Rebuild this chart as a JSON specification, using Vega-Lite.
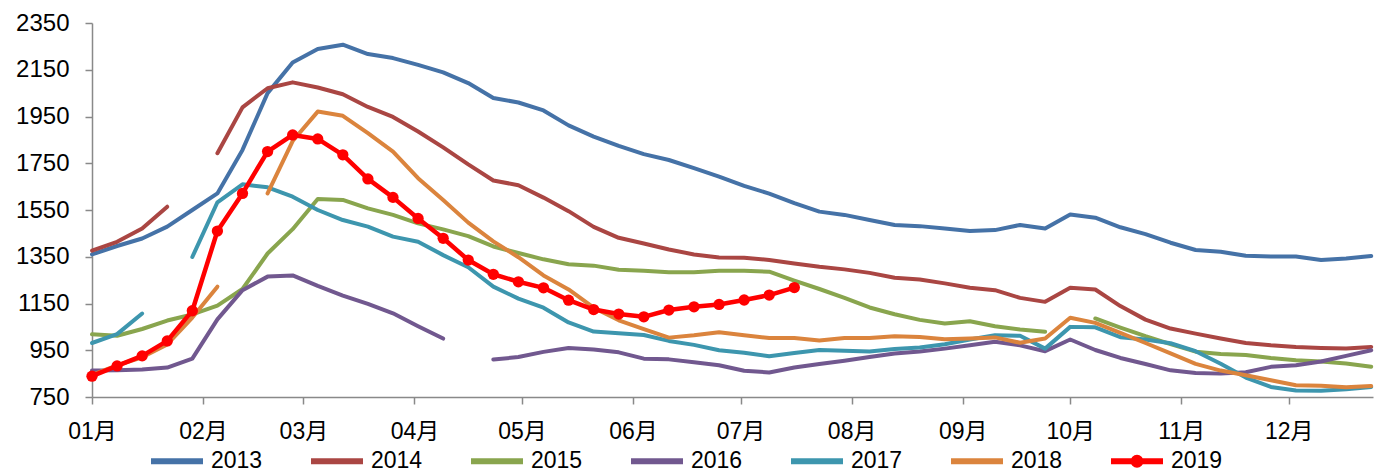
{
"$schema": "https://vega.github.io/schema/vega-lite/v6.json",
"width": 1281, "height": 374,
"autosize": {"type": "none"},
"padding": {"left": 92, "top": 23, "right": 13, "bottom": 76},
"background": "white",
"config": {"view": {"stroke": null}, "font": "Liberation Sans, Arial, sans-serif"},
"data": {"values": [
{"d":"2019-01-01","s":"2013","g":"2013","v":1360},{"d":"2019-01-08","s":"2013","g":"2013","v":1396},{"d":"2019-01-15","s":"2013","g":"2013","v":1428},{"d":"2019-01-22","s":"2013","g":"2013","v":1479},{"d":"2019-01-29","s":"2013","g":"2013","v":1550},{"d":"2019-02-05","s":"2013","g":"2013","v":1621},{"d":"2019-02-12","s":"2013","g":"2013","v":1807},{"d":"2019-02-19","s":"2013","g":"2013","v":2050},{"d":"2019-02-26","s":"2013","g":"2013","v":2181},{"d":"2019-03-05","s":"2013","g":"2013","v":2239},{"d":"2019-03-12","s":"2013","g":"2013","v":2257},{"d":"2019-03-19","s":"2013","g":"2013","v":2217},{"d":"2019-03-26","s":"2013","g":"2013","v":2200},{"d":"2019-04-02","s":"2013","g":"2013","v":2171},{"d":"2019-04-09","s":"2013","g":"2013","v":2139},{"d":"2019-04-16","s":"2013","g":"2013","v":2093},{"d":"2019-04-23","s":"2013","g":"2013","v":2029},{"d":"2019-04-30","s":"2013","g":"2013","v":2010},{"d":"2019-05-07","s":"2013","g":"2013","v":1976},{"d":"2019-05-14","s":"2013","g":"2013","v":1912},{"d":"2019-05-21","s":"2013","g":"2013","v":1864},{"d":"2019-05-28","s":"2013","g":"2013","v":1824},{"d":"2019-06-04","s":"2013","g":"2013","v":1789},{"d":"2019-06-11","s":"2013","g":"2013","v":1764},{"d":"2019-06-18","s":"2013","g":"2013","v":1729},{"d":"2019-06-25","s":"2013","g":"2013","v":1693},{"d":"2019-07-02","s":"2013","g":"2013","v":1653},{"d":"2019-07-09","s":"2013","g":"2013","v":1620},{"d":"2019-07-16","s":"2013","g":"2013","v":1579},{"d":"2019-07-23","s":"2013","g":"2013","v":1543},{"d":"2019-07-30","s":"2013","g":"2013","v":1529},{"d":"2019-08-06","s":"2013","g":"2013","v":1507},{"d":"2019-08-13","s":"2013","g":"2013","v":1486},{"d":"2019-08-20","s":"2013","g":"2013","v":1481},{"d":"2019-08-27","s":"2013","g":"2013","v":1471},{"d":"2019-09-03","s":"2013","g":"2013","v":1460},{"d":"2019-09-10","s":"2013","g":"2013","v":1464},{"d":"2019-09-17","s":"2013","g":"2013","v":1486},{"d":"2019-09-24","s":"2013","g":"2013","v":1471},{"d":"2019-10-01","s":"2013","g":"2013","v":1531},{"d":"2019-10-08","s":"2013","g":"2013","v":1517},{"d":"2019-10-15","s":"2013","g":"2013","v":1476},{"d":"2019-10-22","s":"2013","g":"2013","v":1447},{"d":"2019-10-29","s":"2013","g":"2013","v":1410},{"d":"2019-11-05","s":"2013","g":"2013","v":1379},{"d":"2019-11-12","s":"2013","g":"2013","v":1371},{"d":"2019-11-19","s":"2013","g":"2013","v":1354},{"d":"2019-11-26","s":"2013","g":"2013","v":1351},{"d":"2019-12-03","s":"2013","g":"2013","v":1351},{"d":"2019-12-10","s":"2013","g":"2013","v":1336},{"d":"2019-12-17","s":"2013","g":"2013","v":1343},{"d":"2019-12-24","s":"2013","g":"2013","v":1353},
{"d":"2019-01-01","s":"2014","g":"2014a","v":1376},{"d":"2019-01-08","s":"2014","g":"2014a","v":1414},{"d":"2019-01-15","s":"2014","g":"2014a","v":1471},{"d":"2019-01-22","s":"2014","g":"2014a","v":1564},
{"d":"2019-02-05","s":"2014","g":"2014b","v":1793},{"d":"2019-02-12","s":"2014","g":"2014b","v":1989},{"d":"2019-02-19","s":"2014","g":"2014b","v":2071},{"d":"2019-02-26","s":"2014","g":"2014b","v":2096},{"d":"2019-03-05","s":"2014","g":"2014b","v":2074},{"d":"2019-03-12","s":"2014","g":"2014b","v":2045},{"d":"2019-03-19","s":"2014","g":"2014b","v":1991},{"d":"2019-03-26","s":"2014","g":"2014b","v":1948},{"d":"2019-04-02","s":"2014","g":"2014b","v":1886},{"d":"2019-04-09","s":"2014","g":"2014b","v":1818},{"d":"2019-04-16","s":"2014","g":"2014b","v":1745},{"d":"2019-04-23","s":"2014","g":"2014b","v":1676},{"d":"2019-04-30","s":"2014","g":"2014b","v":1656},{"d":"2019-05-07","s":"2014","g":"2014b","v":1603},{"d":"2019-05-14","s":"2014","g":"2014b","v":1545},{"d":"2019-05-21","s":"2014","g":"2014b","v":1478},{"d":"2019-05-28","s":"2014","g":"2014b","v":1431},{"d":"2019-06-04","s":"2014","g":"2014b","v":1407},{"d":"2019-06-11","s":"2014","g":"2014b","v":1381},{"d":"2019-06-18","s":"2014","g":"2014b","v":1360},{"d":"2019-06-25","s":"2014","g":"2014b","v":1347},{"d":"2019-07-02","s":"2014","g":"2014b","v":1346},{"d":"2019-07-09","s":"2014","g":"2014b","v":1336},{"d":"2019-07-16","s":"2014","g":"2014b","v":1321},{"d":"2019-07-23","s":"2014","g":"2014b","v":1307},{"d":"2019-07-30","s":"2014","g":"2014b","v":1296},{"d":"2019-08-06","s":"2014","g":"2014b","v":1281},{"d":"2019-08-13","s":"2014","g":"2014b","v":1260},{"d":"2019-08-20","s":"2014","g":"2014b","v":1253},{"d":"2019-08-27","s":"2014","g":"2014b","v":1236},{"d":"2019-09-03","s":"2014","g":"2014b","v":1217},{"d":"2019-09-10","s":"2014","g":"2014b","v":1207},{"d":"2019-09-17","s":"2014","g":"2014b","v":1174},{"d":"2019-09-24","s":"2014","g":"2014b","v":1157},{"d":"2019-10-01","s":"2014","g":"2014b","v":1217},{"d":"2019-10-08","s":"2014","g":"2014b","v":1210},{"d":"2019-10-15","s":"2014","g":"2014b","v":1139},{"d":"2019-10-22","s":"2014","g":"2014b","v":1081},{"d":"2019-10-29","s":"2014","g":"2014b","v":1043},{"d":"2019-11-05","s":"2014","g":"2014b","v":1021},{"d":"2019-11-12","s":"2014","g":"2014b","v":1000},{"d":"2019-11-19","s":"2014","g":"2014b","v":981},{"d":"2019-11-26","s":"2014","g":"2014b","v":971},{"d":"2019-12-03","s":"2014","g":"2014b","v":964},{"d":"2019-12-10","s":"2014","g":"2014b","v":960},{"d":"2019-12-17","s":"2014","g":"2014b","v":957},{"d":"2019-12-24","s":"2014","g":"2014b","v":964},
{"d":"2019-01-01","s":"2015","g":"2015a","v":1018},{"d":"2019-01-08","s":"2015","g":"2015a","v":1012},{"d":"2019-01-15","s":"2015","g":"2015a","v":1041},{"d":"2019-01-22","s":"2015","g":"2015a","v":1077},{"d":"2019-01-29","s":"2015","g":"2015a","v":1103},{"d":"2019-02-05","s":"2015","g":"2015a","v":1141},{"d":"2019-02-12","s":"2015","g":"2015a","v":1212},{"d":"2019-02-19","s":"2015","g":"2015a","v":1364},{"d":"2019-02-26","s":"2015","g":"2015a","v":1468},{"d":"2019-03-05","s":"2015","g":"2015a","v":1597},{"d":"2019-03-12","s":"2015","g":"2015a","v":1593},{"d":"2019-03-19","s":"2015","g":"2015a","v":1557},{"d":"2019-03-26","s":"2015","g":"2015a","v":1529},{"d":"2019-04-02","s":"2015","g":"2015a","v":1493},{"d":"2019-04-09","s":"2015","g":"2015a","v":1467},{"d":"2019-04-16","s":"2015","g":"2015a","v":1438},{"d":"2019-04-23","s":"2015","g":"2015a","v":1394},{"d":"2019-04-30","s":"2015","g":"2015a","v":1366},{"d":"2019-05-07","s":"2015","g":"2015a","v":1339},{"d":"2019-05-14","s":"2015","g":"2015a","v":1318},{"d":"2019-05-21","s":"2015","g":"2015a","v":1312},{"d":"2019-05-28","s":"2015","g":"2015a","v":1294},{"d":"2019-06-04","s":"2015","g":"2015a","v":1290},{"d":"2019-06-11","s":"2015","g":"2015a","v":1284},{"d":"2019-06-18","s":"2015","g":"2015a","v":1284},{"d":"2019-06-25","s":"2015","g":"2015a","v":1290},{"d":"2019-07-02","s":"2015","g":"2015a","v":1290},{"d":"2019-07-09","s":"2015","g":"2015a","v":1286},{"d":"2019-07-16","s":"2015","g":"2015a","v":1248},{"d":"2019-07-23","s":"2015","g":"2015a","v":1212},{"d":"2019-07-30","s":"2015","g":"2015a","v":1174},{"d":"2019-08-06","s":"2015","g":"2015a","v":1133},{"d":"2019-08-13","s":"2015","g":"2015a","v":1104},{"d":"2019-08-20","s":"2015","g":"2015a","v":1080},{"d":"2019-08-27","s":"2015","g":"2015a","v":1064},{"d":"2019-09-03","s":"2015","g":"2015a","v":1074},{"d":"2019-09-10","s":"2015","g":"2015a","v":1053},{"d":"2019-09-17","s":"2015","g":"2015a","v":1039},{"d":"2019-09-24","s":"2015","g":"2015a","v":1029},
{"d":"2019-10-08","s":"2015","g":"2015b","v":1086},{"d":"2019-10-15","s":"2015","g":"2015b","v":1047},{"d":"2019-10-22","s":"2015","g":"2015b","v":1010},{"d":"2019-10-29","s":"2015","g":"2015b","v":976},{"d":"2019-11-05","s":"2015","g":"2015b","v":944},{"d":"2019-11-12","s":"2015","g":"2015b","v":934},{"d":"2019-11-19","s":"2015","g":"2015b","v":930},{"d":"2019-11-26","s":"2015","g":"2015b","v":917},{"d":"2019-12-03","s":"2015","g":"2015b","v":907},{"d":"2019-12-10","s":"2015","g":"2015b","v":902},{"d":"2019-12-17","s":"2015","g":"2015b","v":893},{"d":"2019-12-24","s":"2015","g":"2015b","v":879},
{"d":"2019-01-01","s":"2016","g":"2016a","v":863},{"d":"2019-01-08","s":"2016","g":"2016a","v":864},{"d":"2019-01-15","s":"2016","g":"2016a","v":868},{"d":"2019-01-22","s":"2016","g":"2016a","v":876},{"d":"2019-01-29","s":"2016","g":"2016a","v":914},{"d":"2019-02-05","s":"2016","g":"2016a","v":1082},{"d":"2019-02-12","s":"2016","g":"2016a","v":1207},{"d":"2019-02-19","s":"2016","g":"2016a","v":1265},{"d":"2019-02-26","s":"2016","g":"2016a","v":1270},{"d":"2019-03-05","s":"2016","g":"2016a","v":1225},{"d":"2019-03-12","s":"2016","g":"2016a","v":1184},{"d":"2019-03-19","s":"2016","g":"2016a","v":1148},{"d":"2019-03-26","s":"2016","g":"2016a","v":1108},{"d":"2019-04-02","s":"2016","g":"2016a","v":1053},{"d":"2019-04-09","s":"2016","g":"2016a","v":1000},
{"d":"2019-04-23","s":"2016","g":"2016b","v":910},{"d":"2019-04-30","s":"2016","g":"2016b","v":921},{"d":"2019-05-07","s":"2016","g":"2016b","v":943},{"d":"2019-05-14","s":"2016","g":"2016b","v":960},{"d":"2019-05-21","s":"2016","g":"2016b","v":953},{"d":"2019-05-28","s":"2016","g":"2016b","v":941},{"d":"2019-06-04","s":"2016","g":"2016b","v":914},{"d":"2019-06-11","s":"2016","g":"2016b","v":911},{"d":"2019-06-18","s":"2016","g":"2016b","v":899},{"d":"2019-06-25","s":"2016","g":"2016b","v":886},{"d":"2019-07-02","s":"2016","g":"2016b","v":862},{"d":"2019-07-09","s":"2016","g":"2016b","v":855},{"d":"2019-07-16","s":"2016","g":"2016b","v":876},{"d":"2019-07-23","s":"2016","g":"2016b","v":891},{"d":"2019-07-30","s":"2016","g":"2016b","v":905},{"d":"2019-08-06","s":"2016","g":"2016b","v":921},{"d":"2019-08-13","s":"2016","g":"2016b","v":936},{"d":"2019-08-20","s":"2016","g":"2016b","v":945},{"d":"2019-08-27","s":"2016","g":"2016b","v":957},{"d":"2019-09-03","s":"2016","g":"2016b","v":971},{"d":"2019-09-10","s":"2016","g":"2016b","v":986},{"d":"2019-09-17","s":"2016","g":"2016b","v":971},{"d":"2019-09-24","s":"2016","g":"2016b","v":946},{"d":"2019-10-01","s":"2016","g":"2016b","v":996},{"d":"2019-10-08","s":"2016","g":"2016b","v":951},{"d":"2019-10-15","s":"2016","g":"2016b","v":917},{"d":"2019-10-22","s":"2016","g":"2016b","v":891},{"d":"2019-10-29","s":"2016","g":"2016b","v":864},{"d":"2019-11-05","s":"2016","g":"2016b","v":853},{"d":"2019-11-12","s":"2016","g":"2016b","v":850},{"d":"2019-11-19","s":"2016","g":"2016b","v":856},{"d":"2019-11-26","s":"2016","g":"2016b","v":879},{"d":"2019-12-03","s":"2016","g":"2016b","v":886},{"d":"2019-12-10","s":"2016","g":"2016b","v":902},{"d":"2019-12-17","s":"2016","g":"2016b","v":926},{"d":"2019-12-24","s":"2016","g":"2016b","v":950},
{"d":"2019-01-01","s":"2017","g":"2017a","v":981},{"d":"2019-01-08","s":"2017","g":"2017a","v":1019},{"d":"2019-01-15","s":"2017","g":"2017a","v":1107},
{"d":"2019-01-29","s":"2017","g":"2017b","v":1349},{"d":"2019-02-05","s":"2017","g":"2017b","v":1583},{"d":"2019-02-12","s":"2017","g":"2017b","v":1660},{"d":"2019-02-19","s":"2017","g":"2017b","v":1647},{"d":"2019-02-26","s":"2017","g":"2017b","v":1607},{"d":"2019-03-05","s":"2017","g":"2017b","v":1550},{"d":"2019-03-12","s":"2017","g":"2017b","v":1507},{"d":"2019-03-19","s":"2017","g":"2017b","v":1479},{"d":"2019-03-26","s":"2017","g":"2017b","v":1436},{"d":"2019-04-02","s":"2017","g":"2017b","v":1414},{"d":"2019-04-09","s":"2017","g":"2017b","v":1357},{"d":"2019-04-16","s":"2017","g":"2017b","v":1305},{"d":"2019-04-23","s":"2017","g":"2017b","v":1222},{"d":"2019-04-30","s":"2017","g":"2017b","v":1171},{"d":"2019-05-07","s":"2017","g":"2017b","v":1132},{"d":"2019-05-14","s":"2017","g":"2017b","v":1069},{"d":"2019-05-21","s":"2017","g":"2017b","v":1030},{"d":"2019-05-28","s":"2017","g":"2017b","v":1023},{"d":"2019-06-04","s":"2017","g":"2017b","v":1015},{"d":"2019-06-11","s":"2017","g":"2017b","v":990},{"d":"2019-06-18","s":"2017","g":"2017b","v":973},{"d":"2019-06-25","s":"2017","g":"2017b","v":950},{"d":"2019-07-02","s":"2017","g":"2017b","v":939},{"d":"2019-07-09","s":"2017","g":"2017b","v":924},{"d":"2019-07-16","s":"2017","g":"2017b","v":938},{"d":"2019-07-23","s":"2017","g":"2017b","v":951},{"d":"2019-07-30","s":"2017","g":"2017b","v":948},{"d":"2019-08-06","s":"2017","g":"2017b","v":945},{"d":"2019-08-13","s":"2017","g":"2017b","v":955},{"d":"2019-08-20","s":"2017","g":"2017b","v":962},{"d":"2019-08-27","s":"2017","g":"2017b","v":976},{"d":"2019-09-03","s":"2017","g":"2017b","v":996},{"d":"2019-09-10","s":"2017","g":"2017b","v":1014},{"d":"2019-09-17","s":"2017","g":"2017b","v":1012},{"d":"2019-09-24","s":"2017","g":"2017b","v":957},{"d":"2019-10-01","s":"2017","g":"2017b","v":1050},{"d":"2019-10-08","s":"2017","g":"2017b","v":1048},{"d":"2019-10-15","s":"2017","g":"2017b","v":1006},{"d":"2019-10-22","s":"2017","g":"2017b","v":996},{"d":"2019-10-29","s":"2017","g":"2017b","v":980},{"d":"2019-11-05","s":"2017","g":"2017b","v":946},{"d":"2019-11-12","s":"2017","g":"2017b","v":892},{"d":"2019-11-19","s":"2017","g":"2017b","v":833},{"d":"2019-11-26","s":"2017","g":"2017b","v":793},{"d":"2019-12-03","s":"2017","g":"2017b","v":778},{"d":"2019-12-10","s":"2017","g":"2017b","v":777},{"d":"2019-12-17","s":"2017","g":"2017b","v":783},{"d":"2019-12-24","s":"2017","g":"2017b","v":793},
{"d":"2019-01-01","s":"2018","g":"2018a","v":845},{"d":"2019-01-08","s":"2018","g":"2018a","v":885},{"d":"2019-01-15","s":"2018","g":"2018a","v":920},{"d":"2019-01-22","s":"2018","g":"2018a","v":975},{"d":"2019-01-29","s":"2018","g":"2018a","v":1090},{"d":"2019-02-05","s":"2018","g":"2018a","v":1222},
{"d":"2019-02-19","s":"2018","g":"2018b","v":1621},{"d":"2019-02-26","s":"2018","g":"2018b","v":1845},{"d":"2019-03-05","s":"2018","g":"2018b","v":1971},{"d":"2019-03-12","s":"2018","g":"2018b","v":1953},{"d":"2019-03-19","s":"2018","g":"2018b","v":1879},{"d":"2019-03-26","s":"2018","g":"2018b","v":1800},{"d":"2019-04-02","s":"2018","g":"2018b","v":1686},{"d":"2019-04-09","s":"2018","g":"2018b","v":1593},{"d":"2019-04-16","s":"2018","g":"2018b","v":1496},{"d":"2019-04-23","s":"2018","g":"2018b","v":1416},{"d":"2019-04-30","s":"2018","g":"2018b","v":1348},{"d":"2019-05-07","s":"2018","g":"2018b","v":1270},{"d":"2019-05-14","s":"2018","g":"2018b","v":1210},{"d":"2019-05-21","s":"2018","g":"2018b","v":1132},{"d":"2019-05-28","s":"2018","g":"2018b","v":1078},{"d":"2019-06-04","s":"2018","g":"2018b","v":1040},{"d":"2019-06-11","s":"2018","g":"2018b","v":1004},{"d":"2019-06-18","s":"2018","g":"2018b","v":1014},{"d":"2019-06-25","s":"2018","g":"2018b","v":1027},{"d":"2019-07-02","s":"2018","g":"2018b","v":1014},{"d":"2019-07-09","s":"2018","g":"2018b","v":1002},{"d":"2019-07-16","s":"2018","g":"2018b","v":1002},{"d":"2019-07-23","s":"2018","g":"2018b","v":992},{"d":"2019-07-30","s":"2018","g":"2018b","v":1002},{"d":"2019-08-06","s":"2018","g":"2018b","v":1002},{"d":"2019-08-13","s":"2018","g":"2018b","v":1010},{"d":"2019-08-20","s":"2018","g":"2018b","v":1007},{"d":"2019-08-27","s":"2018","g":"2018b","v":997},{"d":"2019-09-03","s":"2018","g":"2018b","v":1000},{"d":"2019-09-10","s":"2018","g":"2018b","v":1005},{"d":"2019-09-17","s":"2018","g":"2018b","v":982},{"d":"2019-09-24","s":"2018","g":"2018b","v":1000},{"d":"2019-10-01","s":"2018","g":"2018b","v":1089},{"d":"2019-10-08","s":"2018","g":"2018b","v":1067},{"d":"2019-10-15","s":"2018","g":"2018b","v":1024},{"d":"2019-10-22","s":"2018","g":"2018b","v":981},{"d":"2019-10-29","s":"2018","g":"2018b","v":937},{"d":"2019-11-05","s":"2018","g":"2018b","v":892},{"d":"2019-11-12","s":"2018","g":"2018b","v":863},{"d":"2019-11-19","s":"2018","g":"2018b","v":843},{"d":"2019-11-26","s":"2018","g":"2018b","v":822},{"d":"2019-12-03","s":"2018","g":"2018b","v":800},{"d":"2019-12-10","s":"2018","g":"2018b","v":798},{"d":"2019-12-17","s":"2018","g":"2018b","v":792},{"d":"2019-12-24","s":"2018","g":"2018b","v":797},
{"d":"2019-01-01","s":"2019","g":"2019","v":839},{"d":"2019-01-08","s":"2019","g":"2019","v":883},{"d":"2019-01-15","s":"2019","g":"2019","v":926},{"d":"2019-01-22","s":"2019","g":"2019","v":990},{"d":"2019-01-29","s":"2019","g":"2019","v":1119},{"d":"2019-02-05","s":"2019","g":"2019","v":1460},{"d":"2019-02-12","s":"2019","g":"2019","v":1621},{"d":"2019-02-19","s":"2019","g":"2019","v":1800},{"d":"2019-02-26","s":"2019","g":"2019","v":1871},{"d":"2019-03-05","s":"2019","g":"2019","v":1854},{"d":"2019-03-12","s":"2019","g":"2019","v":1786},{"d":"2019-03-19","s":"2019","g":"2019","v":1683},{"d":"2019-03-26","s":"2019","g":"2019","v":1604},{"d":"2019-04-02","s":"2019","g":"2019","v":1514},{"d":"2019-04-09","s":"2019","g":"2019","v":1429},{"d":"2019-04-16","s":"2019","g":"2019","v":1336},{"d":"2019-04-23","s":"2019","g":"2019","v":1275},{"d":"2019-04-30","s":"2019","g":"2019","v":1243},{"d":"2019-05-07","s":"2019","g":"2019","v":1217},{"d":"2019-05-14","s":"2019","g":"2019","v":1164},{"d":"2019-05-21","s":"2019","g":"2019","v":1124},{"d":"2019-05-28","s":"2019","g":"2019","v":1105},{"d":"2019-06-04","s":"2019","g":"2019","v":1093},{"d":"2019-06-11","s":"2019","g":"2019","v":1122},{"d":"2019-06-18","s":"2019","g":"2019","v":1136},{"d":"2019-06-25","s":"2019","g":"2019","v":1146},{"d":"2019-07-02","s":"2019","g":"2019","v":1165},{"d":"2019-07-09","s":"2019","g":"2019","v":1186},{"d":"2019-07-16","s":"2019","g":"2019","v":1218}
]},
"encoding": {
  "x": {"field": "d", "type": "temporal",
    "scale": {"type": "utc", "domain": [1546300800000, 1577188800000]},
    "axis": {"title": null, "labelExpr": "utcFormat(datum.value, '%m') + '月'", "tickCount": {"interval": "month", "step": 1},
      "labelFontSize": 23, "labelColor": "#000000", "labelFont": "Liberation Sans, Arial, Noto Sans CJK SC, sans-serif",
      "domainColor": "#898989", "domainWidth": 1.5, "tickColor": "#898989", "tickWidth": 1.5, "tickSize": 7,
      "labelPadding": 16, "grid": false, "labelFlush": false, "labelOverlap": false}},
  "y": {"field": "v", "type": "quantitative",
    "scale": {"domain": [750, 2350], "nice": false, "zero": false},
    "axis": {"title": null, "format": "d", "values": [750, 950, 1150, 1350, 1550, 1750, 1950, 2150, 2350],
      "labelFontSize": 24, "labelColor": "#000000", "domainColor": "#898989", "domainWidth": 1.5,
      "tickColor": "#898989", "tickWidth": 1.5, "tickSize": 7, "labelPadding": 16, "grid": false}},
  "color": {"field": "s", "type": "nominal",
    "scale": {"domain": ["2013","2014","2015","2016","2017","2018","2019"],
      "range": ["#4572A7","#AA4643","#89A54E","#71588F","#3D96AE","#DB843D","#FF0000"]},
    "legend": {"orient": "none", "legendX": 56, "legendY": 409, "direction": "horizontal", "columns": 7,
      "gridAlign": "all", "title": null, "symbolType": "stroke", "symbolSize": 2704, "symbolStrokeWidth": 6,
      "labelFontSize": 23, "labelColor": "#000000", "labelOffset": 5, "columnPadding": 36,
      "encode": {"symbols": {"update": {
        "shape": {"signal": "datum.value === '2019' ? 'M-1,0H1M0.135,0A0.135,0.135 0 1,1 -0.135,0A0.135,0.135 0 1,1 0.135,0Z' : 'M-1,0H1M0,-0.135M0,0.135'"},
        "fill": {"signal": "datum.value === '2019' ? '#FF0000' : 'transparent'"},
        "stroke": {"signal": "scale('color', datum.value)"},
        "strokeWidth": {"value": 6},
        "opacity": {"value": 1}}}}}}
},
"layer": [
  {"transform": [{"filter": "datum.s !== '2019'"}],
   "mark": {"type": "line", "strokeWidth": 4, "strokeJoin": "round", "strokeCap": "round"},
   "encoding": {"detail": {"field": "g"}}},
  {"transform": [{"filter": "datum.s === '2019'"}],
   "mark": {"type": "line", "strokeWidth": 4.5, "strokeJoin": "round", "strokeCap": "round"},
   "encoding": {"detail": {"field": "g"}}},
  {"transform": [{"filter": "datum.s === '2019'"}],
   "mark": {"type": "point", "filled": true, "shape": "circle", "size": 127, "opacity": 1, "strokeWidth": 0}}
]
}
